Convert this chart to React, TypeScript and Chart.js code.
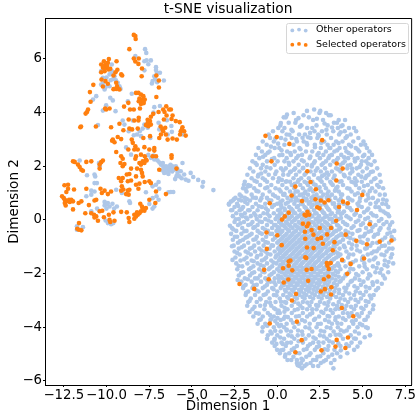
import React, { useEffect, useRef } from "react";
import { Chart, registerables } from "chart.js";

Chart.register(...registerables);

const titleText = "t-SNE visualization";
const xLabel = "Dimension 1";
const yLabel = "Dimension 2";
const otherName = "Other operators";
const selectedName = "Selected operators";
const xTicks = [-12.5, -10, -7.5, -5, -2.5, 0, 2.5, 5, 7.5];
const yTicks = [-6, -4, -2, 0, 2, 4, 6];
const BLUE = "#aec7e8";
const ORANGE = "#ff7f0e";

// left cluster, flat x,y pairs
const otherLeft = [
-7.74,6.36,-7.67,6.22,-8.31,6.1,-7.78,5.91,-7.65,5.94,-7.4,5.94,-7.1,5.69,-7.1,5.58,-7.05,5.48,-6.87,5.48,-7.78,5.57,-7.3,5.17,-7.34,5.08,-7.03,5.13,-6.64,5.19,-10.31,5.54,-9.69,5.79,-9.69,5.54,-9.63,5.44,-9.53,5.35,-9.82,5.42,-10.21,5.29,-10.31,5.04,-10.11,4.86,-9.82,4.98,-9.34,5.11,-9.24,4.98,-9.18,4.88,-8.52,4.7,-10.6,4.61,-10.79,4.48,-9.78,4.55,-9.63,4.45,-10.02,4.27,-10.21,4.07,-9.47,4.05,-8.75,4.42,-7.2,4.2,-6.87,4.24,-10.5,3.53,-9.05,3.7,-8.95,3.55,-8.46,3.7,-7.78,3.55,-7.88,3.4,-7.59,3.43,-6.46,3.71,-6.91,3.37,-6.17,3.28,-5.51,3.18,-8.21,3.18,-7.98,3.12,-6.42,3.18,-7.43,3.05,
-11.57,2.21,-11.14,1.66,-10.7,1.69,-10.66,1.62,-10.7,1.37,-10.56,1.37,-10.44,2.12,-10.4,2.0,-10.89,0.94,-10.7,1.06,-11.18,0.88,-10.89,1.09,-8.85,2.7,-8.56,2.43,-10.11,0.67,-9.92,0.63,-9.82,0.5,-10.11,0.54,-9.39,0.5,-10.0,0.58,-10.89,0.32,-9.92,-0.12,-9.73,-0.16,-11.73,-0.24,-11.38,-0.27,-11.73,-0.37,-8.66,0.69,-8.62,0.63,-7.3,0.42,-7.2,0.5,-7.49,0.59,-6.95,0.75,-7.3,0.81,-7.07,0.88,-9.43,1.12,-9.1,1.0,-7.69,1.03,-7.3,1.25,-7.1,1.31,-6.95,1.41,-6.91,1.16,-6.37,1.03,-6.23,1.04,-6.09,1.04,
-7.4,2.31,-7.2,2.25,-7.01,2.21,-6.81,2.06,-6.68,2.0,-6.52,2.0,-6.33,2.0,-6.13,2.0,-5.94,2.0,-6.42,1.91,-6.23,1.91,-6.04,1.87,-6.62,1.75,-6.37,1.71,-5.84,1.75,-5.98,1.52,-5.65,1.81,-5.55,2.12,-5.45,1.69,-5.36,1.5,-5.2,1.46,-5.07,1.75,-4.92,1.6,-4.63,1.49,-4.34,1.41,-4.38,1.24,-3.74,1.11,-6.5,1.95,-6.25,2.05,-6.05,1.95,-5.85,1.9,-6.7,2.12,-7.1,2.3,-6.15,1.8,-7.55,2.42,
-6.9,2.14,-6.6,1.88,-6.3,1.84,-5.72,1.62,-5.6,1.55,-7.25,2.4,-6.75,1.85,-5.9,1.63,-6.5,1.77,-9.75,5.2,-9.6,5.25,-9.45,5.2,-10.2,5.1,-10.05,4.95,-10.0,5.3,-7.2,5.35,-7.15,5.25,-7.55,5.8,-7.25,4.0,-10.0,0.42,-9.65,0.6,-9.55,0.42,-10.05,-0.02,-9.6,-0.12,-10.55,0.42,-8.7,3.3,-8.05,3.3,-8.4,3.15,-6.2,3.5,-6.95,3.62
];

// right cluster: bridge points, flat x,y pairs
const otherBridge = [-2.83,0.57,-2.63,0.37,-2.53,0.78,-2.24,0.75,-2.1,0.88,-1.78,0.78,-2.09,0.4,-1.95,1.31,-1.85,1.15,-1.7,1.25];

// right cluster: each entry is one horizontal band, y then the x values found in it
const otherBands: [number, number[]][] = [
[4.11,[2.16]],
[4.06,[1.74,2.52]],
[3.98,[0.96,2.47,2.86]],
[3.9,[1.54,3.02,3.13]],
[3.82,[0.38,0.5,1.85]],
[3.72,[1.1,2.1,2.68,3.6,3.97]],
[3.62,[0.67,1.06,3.32,3.5]],
[3.52,[0.18,1.42,2.3,2.95,3.82]],
[3.42,[0.06,0.42,1.75,2.05,3.55,4.2,4.5]],
[3.3,[-0.25,0.3,0.9,2.18,2.62,3.28,3.95,4.62]],
[3.18,[-0.5,0.55,1.28,1.62,2.4,2.9,3.62,4.3]],
[3.05,[-0.42,0.22,0.85,1.95,2.35,3.15,4.0,4.75]],
[2.92,[-0.85,-0.2,1.15,1.55,2.75,3.45,3.82,4.45,5.05]],
[2.8,[-0.62,0.42,0.95,1.75,2.2,2.95,3.3,4.2,4.9,5.15]],
[2.68,[-1.1,-0.15,0.12,1.3,2.55,3.05,3.65,4.6,5.25]],
[2.55,[-0.9,-0.45,0.58,1.02,1.68,2.05,2.85,3.35,4.05,4.8,5.4]],
[2.42,[-1.25,-0.7,0.3,0.8,1.45,2.35,2.7,3.2,3.75,4.35,5.1,5.55]],
[2.3,[-1.05,-0.18,0.55,1.12,1.9,2.5,3.0,3.55,4.15,4.7,5.35]],
[2.18,[-1.45,-0.6,0.02,0.42,0.95,1.55,2.2,2.85,3.3,3.95,4.55,5.2,5.7]],
[2.05,[-1.2,-0.85,-0.15,0.7,1.25,1.75,2.05,2.6,3.1,3.7,4.3,4.9,5.5]],
[1.92,[-1.6,-0.95,-0.4,0.22,0.5,1.05,1.5,2.35,2.8,3.45,4.1,4.65,5.25,5.85]],
[1.8,[-1.4,-0.7,-0.05,0.8,1.3,1.95,2.55,3.2,3.7,4.4,5.0,5.6]],
[1.68,[-1.75,-1.1,-0.5,0.35,0.65,1.1,1.6,2.15,2.75,3.0,3.9,4.75,5.35,6.0]],
[1.55,[-1.5,-0.85,-0.25,0.1,0.95,1.4,1.85,2.4,2.9,3.3,4.2,4.55,5.15,5.75]],
[1.42,[-1.9,-1.2,-0.6,0.05,0.5,0.75,1.2,1.6,2.05,2.6,3.1,3.65,4.35,4.95,5.5,6.05]],
[1.3,[-1.7,-1.0,-0.35,0.3,0.85,1.35,1.8,2.25,2.75,3.25,3.85,4.6,5.3,5.85]],
[1.18,[-2.0,-1.35,-0.7,-0.1,0.55,1.0,1.5,1.95,2.4,2.85,3.45,4.1,4.8,5.55,6.2]],
[1.06,[-1.8,-1.1,-0.45,0.2,0.75,1.2,1.65,2.1,2.55,3.0,3.6,4.35,5.05,5.75]],
[0.94,[-2.2,-1.5,-0.85,-0.25,0.35,0.95,1.4,1.8,2.3,2.7,3.2,3.8,4.55,5.3,6.0,6.3]],
[0.82,[-2.45,-1.9,-1.25,-0.6,0.05,0.6,1.1,1.55,2.0,2.45,2.9,3.4,4.15,4.85,5.6]],
[0.72,[-2.6,-2.1,-1.6,-1.0,-0.35,0.3,0.8,1.25,1.7,2.15,2.6,3.1,3.6,4.4,5.2,5.9,6.4]],
[0.6,[-2.83,-2.35,-1.75,-1.25,-0.7,0.0,0.5,1.0,1.4,1.85,2.3,2.75,3.25,3.9,4.7,5.45,6.15]],
[0.48,[-2.5,-2.0,-1.45,-0.9,-0.3,0.25,0.7,1.15,1.6,2.0,2.45,2.9,3.4,4.1,4.95,5.75,6.5]],
[0.36,[-2.7,-2.2,-1.7,-1.15,-0.55,0.05,0.45,0.9,1.3,1.75,2.15,2.6,3.05,3.6,4.35,5.25,6.05]],
[0.25,[-2.4,-1.9,-1.35,-0.8,-0.2,0.25,0.65,1.05,1.5,1.9,2.3,2.75,3.2,3.8,4.6,5.5,6.35]],
[0.14,[-2.6,-2.05,-1.55,-1.0,-0.45,0.0,0.45,0.85,1.25,1.65,2.05,2.45,2.9,3.4,4.05,4.85,5.8,6.55]],
[0.03,[-2.25,-1.75,-1.2,-0.7,-0.1,0.3,0.65,1.05,1.45,1.85,2.25,2.65,3.05,3.6,4.3,5.15,6.1]],
[-0.08,[-2.5,-1.95,-1.45,-0.9,-0.35,0.1,0.5,0.85,1.25,1.65,2.0,2.4,2.8,3.25,3.85,4.6,5.45,6.4]],
[-0.19,[-2.3,-1.7,-1.15,-0.6,-0.1,0.3,0.7,1.05,1.45,1.8,2.2,2.6,3.0,3.5,4.1,4.9,5.75,6.6]],
[-0.3,[-2.65,-2.05,-1.4,-0.85,-0.3,0.12,0.5,0.9,1.25,1.6,2.0,2.4,2.8,3.2,3.7,4.35,5.2,6.05]],
[-0.41,[-2.4,-1.8,-1.15,-0.55,-0.05,0.3,0.7,1.1,1.45,1.85,2.2,2.6,3.0,3.45,4.0,4.7,5.5,6.85]],
[-0.52,[-2.7,-2.1,-1.5,-0.9,-0.3,0.15,0.55,0.9,1.3,1.65,2.05,2.4,2.8,3.25,3.75,4.4,5.15,5.9,6.45]],
[-0.63,[-2.35,-1.75,-1.2,-0.65,-0.1,0.35,0.75,1.1,1.5,1.85,2.25,2.6,3.0,3.5,4.1,4.85,5.65,6.7]],
[-0.74,[-2.6,-2.0,-1.4,-0.85,-0.25,0.2,0.55,0.95,1.3,1.7,2.05,2.45,2.85,3.3,3.85,4.5,5.3,6.15]],
[-0.85,[-2.3,-1.7,-1.1,-0.55,0.0,0.4,0.75,1.15,1.5,1.9,2.25,2.65,3.05,3.55,4.2,5.0,5.85,6.55]],
[-0.96,[-2.55,-1.95,-1.35,-0.8,-0.25,0.2,0.6,0.95,1.35,1.7,2.1,2.45,2.85,3.3,3.9,4.65,5.45,6.3]],
[-1.07,[-2.25,-1.6,-1.05,-0.45,0.05,0.4,0.8,1.15,1.55,1.9,2.3,2.65,3.1,3.65,4.35,5.15,5.95,6.75]],
[-1.18,[-2.5,-1.85,-1.3,-0.7,-0.15,0.25,0.6,1.0,1.35,1.75,2.1,2.5,2.9,3.4,4.05,4.85,5.65,6.4]],
[-1.29,[-2.2,-1.55,-0.95,-0.4,0.05,0.45,0.85,1.2,1.6,1.95,2.35,2.7,3.15,3.7,4.45,5.3,6.1]],
[-1.4,[-2.45,-1.8,-1.2,-0.65,-0.1,0.3,0.65,1.05,1.4,1.8,2.15,2.5,2.95,3.45,4.15,5.0,5.75,6.65]],
[-1.51,[-2.15,-1.5,-0.9,-0.35,0.1,0.5,0.9,1.25,1.65,2.0,2.4,2.75,3.2,3.8,4.6,5.4,6.3]],
[-1.62,[-2.4,-1.75,-1.15,-0.6,-0.05,0.35,0.7,1.1,1.45,1.85,2.2,2.6,3.0,3.55,4.25,5.1,5.9,6.79]],
[-1.73,[-2.05,-1.4,-0.8,-0.3,0.15,0.55,0.95,1.3,1.7,2.05,2.45,2.85,3.35,4.0,4.8,5.6,6.45]],
[-1.84,[-2.34,-1.65,-1.05,-0.5,0.0,0.4,0.8,1.15,1.55,1.9,2.3,2.7,3.15,3.7,4.45,5.25,6.1]],
[-1.95,[-2.0,-1.35,-0.75,-0.2,0.25,0.65,1.0,1.4,1.75,2.15,2.55,3.0,3.55,4.2,5.0,5.75,6.5]],
[-2.07,[-2.25,-1.6,-1.0,-0.45,0.05,0.5,0.85,1.25,1.6,2.0,2.4,2.85,3.4,4.0,4.75,5.45,6.2]],
[-2.18,[-1.9,-1.3,-0.7,-0.15,0.3,0.7,1.1,1.5,1.85,2.25,2.7,3.2,3.85,4.55,5.3,6.3]],
[-2.3,[-2.1,-1.5,-0.95,-0.4,0.1,0.55,0.95,1.35,1.7,2.1,2.55,3.05,3.65,4.3,5.05,5.85]],
[-2.42,[-1.85,-1.2,-0.6,-0.1,0.4,0.8,1.2,1.6,2.0,2.45,2.95,3.5,4.15,4.9,5.6]],
[-2.54,[-2.0,-1.45,-0.85,-0.3,0.2,0.65,1.05,1.45,1.9,2.35,2.85,3.4,4.05,4.7,5.4,5.91]],
[-2.67,[-1.7,-1.1,-0.55,0.0,0.5,0.95,1.4,1.85,2.3,2.8,3.35,4.0,4.6,5.2]],
[-2.8,[-1.85,-1.3,-0.8,-0.2,0.35,0.8,1.3,1.7,2.2,2.7,3.25,3.85,4.5,5.05,5.65]],
[-2.93,[-1.55,-1.0,-0.45,0.15,0.65,1.15,1.6,2.1,2.6,3.1,3.7,4.3,4.9,5.5]],
[-3.06,[-1.7,-1.2,-0.65,-0.1,0.45,1.0,1.5,2.0,2.5,3.0,3.6,4.15,4.75,5.35]],
[-3.2,[-1.76,-1.0,-0.35,0.25,0.85,1.35,1.9,2.4,2.95,3.5,4.05,4.6,5.2]],
[-3.33,[-1.45,-0.75,-0.1,0.6,1.2,1.75,2.3,2.85,3.4,3.95,4.5,5.05,5.6]],
[-3.47,[-1.25,-0.55,0.15,0.85,1.5,2.05,2.7,3.25,3.85,4.35,4.95]],
[-3.6,[-1.4,-0.85,-0.2,0.45,1.1,1.75,2.45,3.05,3.6,4.2,4.8,5.3]],
[-3.73,[-1.05,-0.4,0.2,0.8,1.45,2.15,2.8,3.4,4.0,4.6,5.1]],
[-3.87,[-1.15,-0.7,0.0,0.55,1.25,1.9,2.55,3.2,3.75,4.45,4.84]],
[-4.0,[-0.85,-0.2,0.4,1.0,1.65,2.3,2.9,3.55,4.2,4.7,5.2]],
[-4.16,[-0.88,-0.4,0.2,0.8,1.45,2.05,2.75,3.3,3.9,4.55]],
[-4.3,[-0.55,0.0,0.65,1.2,1.85,2.5,3.1,3.7,4.3,5.43]],
[-4.43,[-0.6,-0.15,0.4,1.0,1.65,2.25,2.9,3.85,4.6]],
[-4.57,[-0.3,0.25,0.8,1.5,2.1,2.7,3.25,4.35,4.85]],
[-4.7,[-0.15,0.5,1.15,1.8,2.45,3.0,3.7,4.2]],
[-4.84,[-0.01,0.35,0.85,1.55,2.2,2.95,3.35,4.5]],
[-4.97,[0.15,0.7,1.3,1.95,2.7,3.5,4.1]],
[-5.1,[0.45,0.95,1.7,2.35,3.0,3.7]],
[-5.22,[0.6,1.15,1.5,2.1,2.85,3.35]],
[-5.33,[1.15,1.4,1.95,2.55,3.15]],
[-5.44,[1.3,1.6,2.1,2.4]],
[-5.53,[1.45,3.29]]
];

// right cluster: further points between the bands, upper part
const otherUpper = [
0.21,3.61,1.33,3.47,2.77,3.59,3.21,3.44,0.83,3.36,1.92,3.24,2.43,3.13,3.71,3.26,4.08,3.11,-0.11,3.03,0.48,2.99,1.11,3.01,1.72,2.86,2.21,2.71,3.59,2.86,4.32,2.74,4.71,2.62,-0.37,2.73,0.25,2.59,0.76,2.49,1.36,2.63,1.94,2.36,2.43,2.49,3.07,2.39,3.51,2.59,3.92,2.33,4.53,2.28,5.02,2.37,-0.83,2.35,-0.31,2.27,0.13,2.41,0.67,2.13,1.44,2.22,2.02,1.99,2.69,2.11,3.48,2.23,4.13,2.02,4.82,1.97,5.31,2.09,-1.28,2.12,-0.62,1.96,0.35,1.83,0.98,1.87,1.67,1.74,2.25,1.83,2.91,1.76,3.36,1.65,3.58,1.88,4.27,1.73,4.92,1.61,5.48,1.78,-1.13,1.62,-0.72,1.49,-0.12,1.71,0.55,1.44,1.25,1.48,1.73,1.37,2.52,1.49,3.17,1.36,3.76,1.44,4.48,1.39,5.08,1.26,5.67,1.52,-1.57,1.27,-1.22,1.08,-0.58,1.21,0.12,1.13,0.42,0.97,1.08,1.06,1.58,0.98,1.88,1.12,2.48,1.21,2.93,0.96,3.38,1.09,3.73,0.94,4.23,1.16,4.72,0.99,5.42,1.07,5.95,1.23,
0.57,3.92,1.24,3.79,2.32,3.77,2.88,3.36,3.74,3.49,0.71,3.17,1.48,3.06,1.81,3.08,2.58,2.87,3.11,2.68,3.98,2.68,4.18,2.49,0.05,2.84,-0.55,2.5,1.23,2.39,2.16,2.13,3.85,2.12,4.95,2.18,-0.94,1.73,0.75,1.78,1.52,1.94,2.62,1.63,3.95,1.63,4.38,1.91,-1.33,1.46,0.27,1.49,1.02,1.34,2.14,1.33,3.53,1.23,4.65,1.44,5.22,1.63
];

// right cluster: further points, left flank
const otherFlankLeft = [
-2.72,0.68,-2.28,0.52,-1.88,0.67,-1.42,0.83,-0.93,0.81,-0.48,0.73,-0.12,0.88,0.18,0.66,-2.12,0.19,-1.62,0.36,-1.07,0.51,-0.67,0.43,-0.18,0.55,-2.43,0.02,-1.83,0.09,-1.27,0.16,-0.58,0.23,0.15,0.38,-2.77,-0.22,-2.16,-0.13,-1.55,-0.16,-1.03,-0.06,-0.52,-0.02,0.12,0.07,-2.57,-0.36,-1.92,-0.42,-1.32,-0.27,-0.72,-0.36,-0.18,-0.19,-2.48,-0.63,-1.62,-0.57,-1.03,-0.48,-0.42,-0.52,0.08,-0.42,-2.18,-0.79,-1.85,-0.66,-1.28,-0.72,-0.68,-0.83,-0.12,-0.66,-2.65,-0.98,-2.08,-1.02,-1.47,-1.04,-0.92,-1.14,-0.33,-0.95,0.14,-1.13,-2.35,-1.23,-1.72,-1.22,-1.17,-1.35,-0.57,-1.26,-0.06,-1.34,-2.62,-1.49,-1.93,-1.47,-1.38,-1.54,-0.75,-1.47,-0.22,-1.59,0.18,-1.42,-2.26,-1.72,-1.55,-1.79,-0.98,-1.68,-0.42,-1.78,0.21,-1.69,-2.12,-1.98,-1.48,-1.99,-0.87,-1.93,-0.33,-2.02,0.09,-2.17,-2.32,-2.24,-1.72,-2.21,-1.15,-2.18,-0.57,-2.27,-0.18,-2.32,-1.97,-2.47,-1.38,-2.44,-0.73,-2.48,-0.22,-2.58,0.27,-2.46,-1.82,-2.72,-1.22,-2.63,-0.68,-2.77,-0.05,-2.81,-1.62,-3.02,-0.98,-2.96,-0.42,-3.09,0.22,-3.05,-1.33,-3.24,-0.72,-3.17,-0.18,-3.29,0.43,-3.27,-1.62,-3.43,-1.08,-3.49,-0.42,-3.54,0.02,-3.47,-0.97,-3.71,-0.12,-3.77,0.38,-3.68,-0.62,-3.92,0.12,-3.96,-0.33,-4.23,0.55,-4.12,-0.17,-4.47,0.32,-4.62
];

// right cluster: further points, right flank
const otherFlankRight = [
3.72,0.79,4.25,0.77,4.82,0.69,5.35,0.81,5.78,0.64,6.2,0.76,3.62,0.57,4.25,0.44,4.77,0.53,5.33,0.42,5.95,0.47,6.37,0.58,3.91,0.31,4.52,0.19,5.08,0.28,5.62,0.17,6.22,0.31,3.73,0.07,4.18,0.09,4.75,-0.02,5.32,0.08,5.95,-0.04,6.48,0.21,3.98,-0.15,4.47,-0.24,5.02,-0.13,5.58,-0.27,6.22,-0.16,6.73,-0.09,3.62,-0.36,4.17,-0.47,4.82,-0.38,5.35,-0.44,5.98,-0.38,6.53,-0.32,3.85,-0.58,4.28,-0.68,5.05,-0.61,5.72,-0.56,6.32,-0.66,6.62,-0.47,3.68,-0.82,4.38,-0.92,4.87,-0.81,5.58,-0.86,6.12,-0.97,6.83,-0.72,3.95,-1.02,4.68,-1.13,5.25,-1.05,5.82,-1.17,6.55,-1.07,3.55,-1.24,4.22,-1.29,5.02,-1.37,5.52,-1.24,6.27,-1.32,6.72,-1.28,3.88,-1.53,4.42,-1.58,4.97,-1.49,5.65,-1.47,6.52,-1.57,3.62,-1.72,4.28,-1.81,5.12,-1.74,5.82,-1.79,6.28,-1.68,4.02,-2.03,4.62,-2.02,5.38,-2.03,6.02,-1.97,3.72,-2.27,4.38,-2.27,4.82,-2.24,5.58,-2.32,6.12,-2.38,3.93,-2.53,4.52,-2.47,5.18,-2.49,5.78,-2.62,3.62,-2.73,4.22,-2.74,4.85,-2.72,5.42,-2.82,3.95,-2.97,4.58,-2.98,5.18,-3.02,5.63,-3.18,3.78,-3.17,4.32,-3.24,4.92,-3.27,5.42,-3.46,4.12,-3.48,4.68,-3.52,5.18,-3.72,3.85,-3.67,4.38,-3.78,4.98,-3.92,5.3,-4.03,4.07,-4.12,4.78,-4.23,4.5,-4.42,5.12,-4.37,3.62,-4.27,4.05,-4.63,4.7,-4.72
];

// right cluster: further points, lower part
const otherLower = [
0.52,-3.09,1.23,-3.12,1.76,-3.08,2.28,-3.17,2.76,-3.11,3.28,-3.14,0.08,-3.38,0.42,-3.42,1.02,-3.36,1.48,-3.28,2.05,-3.33,2.58,-3.42,3.12,-3.36,3.62,-3.31,-0.35,-3.68,0.02,-3.66,0.62,-3.62,1.28,-3.58,1.92,-3.52,2.22,-3.68,2.95,-3.58,3.42,-3.63,-0.58,-3.94,0.22,-3.92,0.92,-3.83,1.62,-3.78,2.38,-3.88,3.02,-3.79,3.52,-3.84,-0.12,-4.13,0.55,-4.08,1.22,-4.12,1.88,-4.04,2.55,-4.13,3.12,-4.03,3.72,-4.11,0.18,-4.38,0.85,-4.34,1.48,-4.28,2.12,-4.38,2.72,-4.34,3.42,-4.28,-0.05,-4.62,0.58,-4.58,1.25,-4.52,1.92,-4.63,2.42,-4.56,3.05,-4.52,3.58,-4.6,0.22,-4.86,0.98,-4.78,1.72,-4.81,2.32,-4.74,2.78,-4.82,3.72,-4.86,0.48,-5.02,1.12,-4.96,1.88,-5.03,2.52,-5.08,3.22,-5.02,0.82,-5.22,1.42,-5.17,2.28,-5.22,2.72,-5.27,1.72,-5.38,1.2,-5.41
];

// right cluster: further points, dense centre
const otherCentre = [
0.42,0.93,0.88,0.85,1.32,0.92,1.72,0.78,2.12,0.88,2.58,0.83,3.05,0.86,0.22,0.55,0.62,0.65,1.06,0.71,1.48,0.58,1.92,0.66,2.38,0.62,2.83,0.55,3.32,0.62,0.42,0.42,0.82,0.41,1.22,0.52,1.68,0.43,2.08,0.55,2.52,0.53,2.98,0.41,3.48,0.43,0.15,0.22,0.58,0.19,0.95,0.29,1.38,0.2,1.82,0.33,2.22,0.24,2.68,0.28,3.12,0.2,3.55,0.28,0.38,0.08,0.72,0.06,1.15,0.09,1.55,0.09,1.95,0.12,2.36,0.06,2.78,0.1,3.2,0.03,3.72,0.22,0.22,-0.14,0.58,-0.13,0.98,-0.02,1.35,-0.13,1.72,-0.02,2.13,-0.1,2.52,-0.03,2.92,-0.13,3.38,-0.08,0.03,-0.27,0.42,-0.24,0.78,-0.24,1.15,-0.25,1.52,-0.24,1.92,-0.24,2.32,-0.23,2.72,-0.25,3.12,-0.24,3.58,-0.22,0.22,-0.46,0.62,-0.37,0.98,-0.46,1.38,-0.36,1.75,-0.46,2.12,-0.37,2.48,-0.46,2.88,-0.36,3.32,-0.45,0.05,-0.58,0.45,-0.58,0.82,-0.57,1.18,-0.58,1.58,-0.57,1.95,-0.58,2.32,-0.57,2.7,-0.58,3.12,-0.57,3.62,-0.58,0.28,-0.69,0.65,-0.69,1.02,-0.69,1.42,-0.68,1.78,-0.69,2.15,-0.69,2.55,-0.68,2.95,-0.69,3.42,-0.69,0.08,-0.8,0.48,-0.8,0.85,-0.8,1.25,-0.8,1.62,-0.8,2.0,-0.8,2.38,-0.8,2.75,-0.8,3.22,-0.8,0.3,-0.91,0.68,-0.91,1.05,-0.91,1.42,-0.91,1.8,-0.91,2.18,-0.91,2.58,-0.91,2.98,-0.91,3.48,-0.91,0.12,-1.02,0.5,-1.02,0.88,-1.02,1.25,-1.02,1.65,-1.02,2.02,-1.02,2.4,-1.02,2.82,-1.02,3.35,-1.02,0.32,-1.13,0.7,-1.13,1.08,-1.13,1.45,-1.13,1.82,-1.13,2.2,-1.13,2.58,-1.13,3.0,-1.13,0.15,-1.24,0.52,-1.24,0.92,-1.24,1.28,-1.24,1.68,-1.24,2.02,-1.24,2.42,-1.24,2.85,-1.24,3.3,-1.24,0.35,-1.35,0.75,-1.35,1.12,-1.35,1.5,-1.35,1.88,-1.35,2.25,-1.35,2.62,-1.35,3.05,-1.35,3.58,-1.35,0.18,-1.46,0.55,-1.46,0.92,-1.46,1.3,-1.46,1.68,-1.46,2.08,-1.46,2.45,-1.46,2.85,-1.46,3.32,-1.46,0.32,-1.57,0.78,-1.57,1.15,-1.57,1.52,-1.57,1.92,-1.57,2.3,-1.57,2.72,-1.57,3.15,-1.57,0.2,-1.68,0.6,-1.68,1.0,-1.68,1.38,-1.68,1.75,-1.68,2.15,-1.68,2.55,-1.68,3.0,-1.68,3.5,-1.68,0.35,-1.79,0.72,-1.79,1.12,-1.79,1.48,-1.79,1.88,-1.79,2.28,-1.79,2.72,-1.79,3.22,-1.79,0.12,-1.9,0.55,-1.9,0.95,-1.9,1.32,-1.9,1.72,-1.9,2.12,-1.9,2.52,-1.9,2.95,-1.9,3.42,-1.9,0.42,-2.01,0.78,-2.01,1.18,-2.01,1.55,-2.01,1.95,-2.01,2.35,-2.01,2.78,-2.01,3.25,-2.01,0.22,-2.12,0.62,-2.12,1.02,-2.12,1.42,-2.12,1.78,-2.12,2.18,-2.12,2.6,-2.12,3.05,-2.12,3.6,-2.12,0.48,-2.24,0.88,-2.24,1.28,-2.24,1.65,-2.24,2.05,-2.24,2.45,-2.24,2.92,-2.24,3.42,-2.24,0.32,-2.36,0.75,-2.36,1.15,-2.36,1.52,-2.36,1.92,-2.36,2.32,-2.36,2.8,-2.36,3.32,-2.36,0.62,-2.48,1.0,-2.48,1.42,-2.48,1.78,-2.48,2.18,-2.48,2.68,-2.48,3.18,-2.48,0.45,-2.6,0.85,-2.6,1.28,-2.6,1.68,-2.6,2.12,-2.6,2.58,-2.6,3.08,-2.6,3.62,-2.6,0.72,-2.74,1.18,-2.74,1.58,-2.74,2.05,-2.74,2.52,-2.74,3.02,-2.74,0.58,-2.87,1.02,-2.87,1.48,-2.87,1.92,-2.87,2.42,-2.87,2.92,-2.87,3.45,-2.87
];

const selectedLeft = [
-8.4,6.89,-8.31,6.85,-8.29,6.74,-8.66,6.36,-8.4,6.01,-8.11,6.01,-8.31,5.9,-8.13,5.81,-7.92,5.64,-7.94,5.35,-7.08,5.38,-6.93,5.19,-6.93,4.93,-7.08,4.58,-9.41,5.91,-9.86,5.99,-10.15,5.91,-10.31,5.79,-10.21,5.67,-10.06,5.79,-9.92,5.85,-10.02,5.67,-10.11,5.54,-9.88,5.6,-9.78,5.63,-10.31,5.5,-10.15,5.73,-9.96,5.73,-9.36,5.59,-9.47,5.5,-9.59,5.38,-9.14,5.42,-9.08,5.38,-10.77,5.03,-10.97,4.76,-10.93,4.4,-10.29,5.23,-10.06,5.17,-10.21,4.97,-9.92,5.07,-9.43,5.11,-9.38,4.98,-9.59,4.87,-9.43,4.88,-9.24,4.86,
-8.27,4.73,-8.13,4.73,-7.98,4.67,-7.84,4.61,-8.07,4.52,-7.88,4.48,-7.76,4.48,-7.98,4.42,-8.11,4.42,-7.84,4.4,-7.98,4.32,-7.82,4.35,-8.72,4.36,-8.97,4.22,-8.62,4.11,-8.4,4.11,-8.04,4.15,-10.02,4.11,-10.08,4.15,-9.82,4.15,-11.08,4.11,-11.14,4.02,-11.22,3.96,-11.53,3.45,-11.49,3.48,-10.62,3.48,-9.73,3.45,
-6.5,4.23,-6.68,4.11,-6.6,4.02,-6.33,4.11,-6.23,4.11,-6.95,4.02,-7.26,3.95,-6.48,3.89,-6.13,3.89,-6.19,3.76,-6.64,3.74,-7.4,3.84,-7.59,3.73,-7.45,3.68,-7.59,3.61,-7.4,3.55,-7.55,3.49,-7.69,3.53,-5.94,3.68,-5.71,3.64,-5.55,3.45,-5.59,3.36,-5.45,3.3,-8.7,3.74,-8.37,3.7,-8.13,3.7,-8.11,3.8,-9.24,3.58,-9.01,3.34,-8.66,3.4,-8.5,3.37,-8.17,3.4,-6.83,3.48,-6.72,3.37,-6.56,3.43,-6.68,3.3,-6.52,3.18,-6.81,3.18,-5.69,3.18,-5.36,3.14,-5.65,3.3,-9.63,2.99,-9.34,3.09,-9.14,3.01,-8.52,2.99,-7.84,3.05,-7.45,3.12,-6.91,3.05,-6.42,2.99,-6.13,3.03,-5.88,2.99,
-9.67,2.95,-9.53,2.89,-9.43,2.53,-8.72,2.62,-8.46,2.87,-8.31,2.74,-8.37,2.62,-8.17,2.62,-7.78,2.71,-9.14,2.37,-9.05,2.28,-8.27,2.37,-8.31,2.28,-7.98,2.43,-7.49,2.62,-7.2,2.68,-7.2,2.58,-7.3,2.37,-7.1,2.37,-7.76,2.37,-7.69,2.25,-7.88,2.18,-8.07,2.12,-7.98,2.06,-7.78,2.12,-7.65,2.21,-9.18,2.12,-9.05,2.0,-8.95,2.08,-8.56,1.91,-8.21,1.91,-7.98,1.87,-7.92,1.75,-6.91,1.87,-6.19,2.41,-6.19,2.31,-5.9,1.91,
-11.96,2.18,-11.86,2.16,-11.67,2.06,-11.57,1.97,-11.47,1.87,-11.38,1.83,-11.18,2.16,-10.89,2.18,-10.31,2.15,-10.21,2.21,-10.4,2.06,-10.4,1.91,-8.66,1.71,-8.81,1.69,-9.28,1.56,-9.05,1.56,-8.27,1.62,-7.88,1.62,-8.56,1.47,-8.75,1.44,-9.14,1.44,-8.27,1.31,-8.07,1.35,-7.76,1.41,-7.49,1.44,-7.4,1.37,-9.1,1.25,-9.01,1.13,-8.75,1.09,-8.13,1.16,-9.14,1.09,-11.18,1.16,-10.35,1.16,-9.73,1.06,-10.27,1.0,-9.92,0.96,-10.11,1.09,
-12.46,1.29,-12.25,1.31,-12.25,1.16,-12.35,1.04,-11.9,1.13,-12.6,0.88,-12.5,0.81,-12.44,0.75,-12.35,0.69,-12.19,0.75,-12.06,0.75,-11.96,0.69,-12.15,0.67,-12.44,0.63,-12.39,0.54,-11.96,0.39,-11.63,0.63,-11.47,0.69,-11.03,0.55,-10.6,0.75,-10.7,0.72,-11.24,0.25,-10.73,0.19,-10.89,0.25,-10.6,0.13,-10.5,-0.03,-10.7,0.09,-10.4,0.32,-10.25,0.34,-10.15,0.1,-9.86,0.19,-9.59,0.28,-9.14,0.3,-8.81,0.28,-9.78,-0.08,-9.53,-0.03,-9.82,0.0,-8.7,0.07,-8.66,-0.08,
-8.37,0.04,-8.27,0.13,-8.17,0.19,-8.07,0.25,-7.98,0.32,-7.78,0.34,-7.69,0.44,-8.37,0.19,-8.21,0.28,-7.88,0.42,-8.02,0.6,-7.92,0.5,-7.49,0.75,-7.14,0.63,-7.1,1.06,-6.52,0.96,-11.61,-0.12,-11.71,-0.33,-11.47,-0.39,-11.61,-0.37,-8.85,0.96,-8.7,0.94,-8.66,1.12
];

const selectedRight = [
-0.69,3.13,-0.03,3.09,0.71,2.83,2.63,2.97,-0.34,2.18,3.48,2.1,3.83,1.91,1.76,1.81,3.46,1.47,1.95,1.41,1.06,1.24,2.26,1.14,4.98,0.93,0.84,0.91,-0.44,0.62,1.45,0.7,2.24,0.77,2.55,0.72,2.77,0.65,3.0,0.73,3.85,0.68,4.13,0.62,3.62,0.48,2.34,0.47,2.47,0.43,4.67,0.37,0.67,0.27,0.44,0.13,0.28,0.01,1.77,0.3,1.6,0.19,1.87,0.19,1.68,0.16,3.45,-0.03,1.5,-0.14,1.83,-0.14,1.74,-0.24,2.01,-0.38,1.62,-0.44,2.49,-0.3,3.15,-0.3,2.92,-0.54,4.01,-0.55,2.12,-0.55,5.41,-0.16,-0.63,-0.47,0.0,-0.57,1.64,-0.7,2.36,-0.71,2.57,-0.67,4.63,-0.78,6.0,-0.81,6.69,-0.77,
-0.61,-1.08,0.26,-0.94,2.67,-0.89,3.35,-0.83,5.25,-0.91,1.74,-1.03,2.13,-1.05,3.25,-1.13,1.64,-1.39,1.7,-1.42,5.08,-1.44,0.77,-1.51,0.67,-1.55,3.8,-1.49,4.3,-1.64,2.9,-1.61,3.13,-1.61,2.94,-1.71,3.02,-1.83,0.67,-1.71,0.34,-1.8,0.88,-1.88,-0.77,-1.86,1.72,-1.86,2.01,-1.83,4.1,-2.01,3.0,-2.11,-0.5,-2.21,0.65,-2.22,0.38,-2.33,2.73,-2.21,1.81,-2.27,-2.21,-2.39,-1.35,-2.57,3.17,-2.51,2.79,-2.58,2.55,-2.67,1.1,-2.76,3.15,-2.78,0.86,-3.0,3.78,-3.28,4.45,-3.59,1.15,-3.79,-0.44,-3.86,4.14,-4.38,3.48,-4.47,1.43,-4.48,3.41,-4.72,3.99,-4.77,2.59,-4.86,1.06,-4.93
];

function fromPairs(flat: number[]) {
  const out: { x: number; y: number }[] = [];
  for (let i = 0; i < flat.length; i += 2) out.push({ x: flat[i], y: flat[i + 1] });
  return out;
}

const fmtMinus = (s: string) => s.replace("-", "\u2212");
const FONT = "'DejaVu Sans'";

const framePlugin = {
  id: "mplFrame",
  afterDraw(chart: any) {
    const { ctx, chartArea: a } = chart;
    ctx.save();
    ctx.strokeStyle = "#000";
    ctx.lineWidth = 1;
    ctx.beginPath();
    ctx.moveTo(a.left, a.top + 0.5);
    ctx.lineTo(a.right + 0.5, a.top + 0.5);
    ctx.lineTo(a.right + 0.5, a.bottom);
    ctx.stroke();

    // legend, matplotlib style: three markers per entry
    const bx = 286, by = 23, bw = 122, bh = 30;
    ctx.fillStyle = "rgba(255,255,255,0.85)";
    ctx.strokeStyle = "#d6d6d6";
    ctx.beginPath();
    ctx.roundRect(bx + 0.5, by + 0.5, bw, bh, 2);
    ctx.fill();
    ctx.stroke();
    const rows = [
      { text: otherName, color: BLUE, y: 30 },
      { text: selectedName, color: ORANGE, y: 44.3 },
    ];
    const offsets = [[292.3, 0.4], [299, -0.4], [305.7, 0.6]];
    rows.forEach((r) => {
      ctx.fillStyle = r.color;
      offsets.forEach(([ox, oy]) => {
        ctx.beginPath();
        ctx.arc(ox, r.y + oy, 1.9, 0, Math.PI * 2);
        ctx.fill();
      });
      ctx.fillStyle = "#000";
      ctx.font = `9.5px ${FONT}`;
      ctx.textBaseline = "middle";
      ctx.textAlign = "left";
      ctx.fillText(r.text, 316, r.y);
    });
    ctx.restore();
  },
};

export default function App() {
  const ref = useRef<HTMLCanvasElement>(null);
  useEffect(() => {
    document.body.style.margin = "0";
    const other = [
      ...fromPairs(otherLeft),
      ...fromPairs(otherBridge),
      ...otherBands.flatMap(([y, xs]) => xs.map((x) => ({ x, y }))),
      ...fromPairs(otherUpper),
      ...fromPairs(otherFlankLeft),
      ...fromPairs(otherFlankRight),
      ...fromPairs(otherLower),
      ...fromPairs(otherCentre),
    ];
    const selected = [...fromPairs(selectedLeft), ...fromPairs(selectedRight)];
    const chart = new Chart(ref.current!, {
      type: "scatter",
      data: {
        datasets: [
          { label: otherName, data: other, backgroundColor: BLUE, borderWidth: 0, pointRadius: 2.3, order: 2 },
          { label: selectedName, data: selected, backgroundColor: ORANGE, borderWidth: 0, pointRadius: 2.3, order: 1 },
        ],
      },
      options: {
        animation: false,
        responsive: false,
        devicePixelRatio: 1,
        layout: { padding: { top: 2, right: 3.5, bottom: 0, left: 0 } },
        plugins: {
          legend: { display: false },
          tooltip: { enabled: false },
          title: {
            display: true,
            fullSize: false,
            text: titleText,
            color: "#000",
            font: { family: FONT, size: 13.8, weight: "normal", lineHeight: 1 },
            padding: { top: 1, bottom: 1.2 },
          },
        },
        scales: {
          x: {
            type: "linear",
            min: -13.6,
            max: 7.84,
            afterBuildTicks: (s: any) => { s.ticks = xTicks.map((value) => ({ value })); },
            afterFit: (s: any) => { s.height = 30; },
            ticks: {
              color: "#000",
              padding: 1,
              maxRotation: 0,
              autoSkip: false,
              font: { family: FONT, size: 13.3 },
              callback: (v: any) => fmtMinus(Number(v).toFixed(1)),
            },
            grid: { drawOnChartArea: false, drawTicks: true, tickLength: 2, color: "#000", tickWidth: 1 },
            border: { color: "#000", width: 1 },
            title: { display: true, text: xLabel, color: "#000", font: { family: FONT, size: 13.5 }, padding: { top: 0, bottom: 0 } },
          },
          y: {
            type: "linear",
            min: -6.15,
            max: 7.52,
            afterBuildTicks: (s: any) => { s.ticks = yTicks.map((value) => ({ value })); },
            afterFit: (s: any) => { s.width = 45; },
            ticks: {
              color: "#000",
              padding: 1,
              autoSkip: false,
              font: { family: FONT, size: 13.3 },
              callback: (v: any) => fmtMinus(String(v)),
            },
            grid: { drawOnChartArea: false, drawTicks: true, tickLength: 2, color: "#000", tickWidth: 1 },
            border: { color: "#000", width: 1 },
            title: { display: true, text: yLabel, color: "#000", font: { family: FONT, size: 13.5 }, padding: { top: 6, bottom: 0 } },
          },
        },
      },
      plugins: [framePlugin],
    } as any);
    return () => chart.destroy();
  }, []);
  return (
    <div style={{ position: "absolute", left: 0, top: 0, width: 417, height: 415 }}>
      <canvas ref={ref} width={417} height={415} style={{ display: "block" }} />
    </div>
  );
}
